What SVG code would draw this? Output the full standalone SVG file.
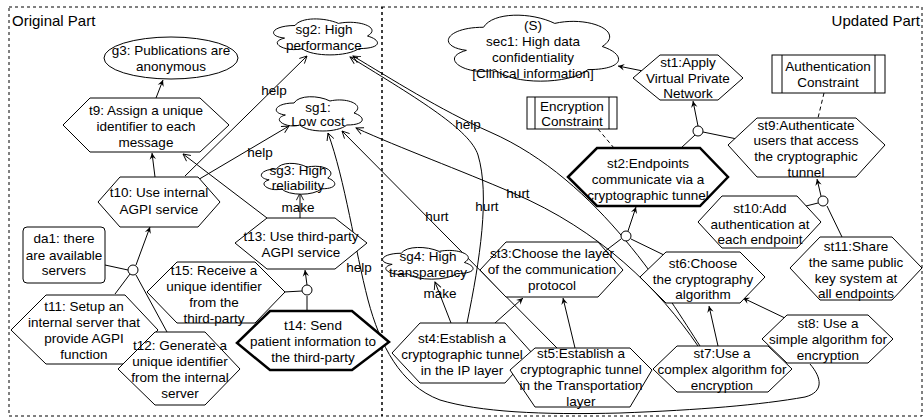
<svg xmlns="http://www.w3.org/2000/svg" width="924" height="420" viewBox="0 0 924 420">
<defs>
<marker id="ar" viewBox="0 0 10 10" refX="9" refY="5" markerWidth="8" markerHeight="8" orient="auto" markerUnits="userSpaceOnUse">
<path d="M1,1 L9,5 L1,9 L4,5 Z" fill="#000"/>
</marker>
<marker id="oa" viewBox="0 0 10 10" refX="9" refY="5" markerWidth="9" markerHeight="9" orient="auto" markerUnits="userSpaceOnUse">
<path d="M1,1 L9,5 L1,9" fill="none" stroke="#000" stroke-width="1"/>
</marker>
<path id="cloud" vector-effect="non-scaling-stroke" d="M0.25,0.25 C0.05,0.25 0,0.5 0.16,0.55 C0,0.66 0.18,0.9 0.31,0.8 C0.4,1 0.7,1 0.8,0.8 C1,0.8 1,0.6 0.875,0.5 C1,0.3 0.8,0.1 0.625,0.2 C0.5,0.05 0.3,0.05 0.25,0.25 Z"/>
</defs>
<style>
text{font-family:"Liberation Sans",Arial,sans-serif;font-size:13.5px;fill:#000;text-anchor:middle}
.frame{fill:none;stroke:#000;stroke-width:1;stroke-dasharray:3 3}
.sh{fill:#fff;stroke:#000;stroke-width:1}
.cl{fill:#fff;stroke:#000;stroke-width:1}
.thick{fill:#fff;stroke:#000;stroke-width:2.5}
.ln{fill:none;stroke:#000;stroke-width:1}
.ar{marker-end:url(#ar)}
.oa{marker-end:url(#oa)}
.dash{stroke-dasharray:4 3}
.title{font-size:15px;text-anchor:start}
</style>
<g id="frames">
<rect class="frame" x="9" y="7" width="373" height="409"/>
<rect class="frame" x="382" y="7" width="540" height="409"/>
<text class="title" x="12" y="26">Original Part</text>
<text class="title" x="920" y="26" style="text-anchor:end">Updated Part</text>
</g>
<g id="connectors">
<line class="ln ar" x1="156" y1="98" x2="163" y2="80"/>
<line class="ln ar" x1="155" y1="177" x2="152" y2="153"/>
<line class="ln oa" x1="185" y1="176" x2="307" y2="56"/>
<line class="ln oa" x1="196" y1="181" x2="289" y2="126"/>
<line class="ln oa" x1="267" y1="218" x2="183" y2="154"/>
<line class="ln oa" x1="300" y1="218" x2="300" y2="193"/>
<line class="ln" x1="105" y1="265" x2="128" y2="270"/>
<line class="ln ar" x1="136" y1="265" x2="150" y2="227"/>
<line class="ln" x1="115" y1="294" x2="130" y2="274"/>
<line class="ln" x1="167" y1="332" x2="136" y2="275"/>
<line class="ln" x1="284" y1="292" x2="302" y2="291"/>
<line class="ln" x1="307" y1="311" x2="307" y2="296"/>
<line class="ln ar" x1="307" y1="285" x2="305" y2="270"/>
<line class="ln ar" x1="643" y1="71" x2="618" y2="66"/>
<line class="ln ar" x1="698" y1="126" x2="693" y2="101"/>
<line class="ln" x1="703" y1="132" x2="737" y2="139"/>
<line class="ln" x1="681" y1="148" x2="695" y2="135"/>
<line class="ln dash" x1="598" y1="129" x2="614" y2="148"/>
<line class="ln dash" x1="824" y1="93" x2="818" y2="118"/>
<line class="ln ar" x1="628" y1="231" x2="636" y2="207"/>
<line class="ln" x1="600" y1="255" x2="621" y2="239"/>
<line class="ln" x1="666" y1="256" x2="631" y2="239"/>
<line class="ln ar" x1="495" y1="323" x2="523" y2="298"/>
<line class="ln ar" x1="575" y1="348" x2="563" y2="298"/>
<line class="ln oa" x1="451" y1="323" x2="435" y2="282"/>
<line class="ln ar" x1="718" y1="346" x2="709" y2="306"/>
<line class="ln ar" x1="787" y1="319" x2="743" y2="298"/>
<line class="ln" x1="806" y1="206" x2="818" y2="203"/>
<line class="ln" x1="842" y1="237" x2="827" y2="206"/>
<line class="ln ar" x1="821" y1="196" x2="817" y2="179"/>
<path class="ln oa" d="M810,364 C822,378 824,392 805,397 C760,405 700,410 620,413 C540,415 480,412 440,400 C400,385 380,345 368,300 C355,250 345,180 328,133"/>
<line class="ln oa" x1="557" y1="348" x2="342" y2="131"/>
<path class="ln oa" d="M698,346 C660,290 600,230 513,193 C460,170 400,148 356,128"/>
<path class="ln oa" d="M467,323 C480,260 490,195 478,155 C470,130 420,100 350,57"/>
<path class="ln oa" d="M700,346 C670,300 600,180 490,132 C440,110 390,78 353,56"/>
</g>
<g id="labels">
<text x="274" y="95">help</text>
<text x="260" y="157">help</text>
<text x="298" y="212">make</text>
<text x="440" y="298">make</text>
<text x="468" y="129">help</text>
<text x="437" y="221">hurt</text>
<text x="487" y="211">hurt</text>
<text x="518" y="198">hurt</text>
<text x="359" y="272">help</text>
</g>
<g id="g3"><ellipse class="sh" cx="171" cy="58" rx="67" ry="21"/><text x="171" y="55">g3: Publications are</text><text x="171" y="71">anonymous</text></g>
<g id="t9"><polygon class="sh" points="63,125 90,98 200,98 229,125 200,152 90,152"/><text x="146" y="115">t9: Assign a unique</text><text x="146" y="131">identifier to each</text><text x="146" y="147">message</text></g>
<g id="sg2"><use href="#cloud" class="cl" transform="translate(266,15) scale(116,42)"/><text x="324" y="34">sg2: High</text><text x="324" y="50">performance</text></g>
<g id="sg1"><use href="#cloud" class="cl" transform="translate(270,93) scale(96,40)"/><text x="318" y="112">sg1:</text><text x="318" y="126">Low cost</text></g>
<g id="sg3"><use href="#cloud" class="cl" transform="translate(256,160) scale(82,36)"/><text x="298" y="175">sg3: High</text><text x="298" y="190">reliability</text></g>
<g id="t10"><polygon class="sh" points="98,202 120,177 198,177 220,202 198,227 120,227"/><text x="159" y="197">t10: Use internal</text><text x="159" y="214">AGPI service</text></g>
<g id="da1"><rect class="sh" x="23" y="227" width="82" height="56" rx="4"/><text x="64" y="243">da1: there</text><text x="64" y="260">are available</text><text x="64" y="275">servers</text></g>
<g id="d1"><circle class="sh" cx="133" cy="270" r="5"/></g>
<g id="t13"><polygon class="sh" points="235,243 267,218 335,218 367,243 335,269 267,269"/><text x="301" y="241">t13: Use third-party</text><text x="301" y="257">AGPI service</text></g>
<g id="d2"><circle class="sh" cx="307" cy="290" r="5"/></g>
<g id="t15"><polygon class="sh" points="147,292 177,262 255,262 285,292 255,323 177,323"/><text x="214" y="275">t15: Receive a</text><text x="214" y="291">unique identifier</text><text x="214" y="307">from the</text><text x="214" y="323">third-party</text></g>
<g id="t11"><polygon class="sh" points="11,330 46,295 125,295 158,330 125,364 46,364"/><text x="84" y="311">t11: Setup an</text><text x="84" y="327">internal server that</text><text x="84" y="343">provide AGPI</text><text x="84" y="359">function</text></g>
<g id="t12"><polygon class="sh" points="118,369 155,332 205,332 240,369 205,405 155,405"/><text x="180" y="350">t12: Generate a</text><text x="180" y="366">unique identifier</text><text x="180" y="382">from the internal</text><text x="180" y="398">server</text></g>
<g id="t14"><polygon class="thick" points="237,343 270,311 352,311 389,342 352,370 270,370"/><text x="313" y="330">t14: Send</text><text x="313" y="346">patient information to</text><text x="313" y="362">the third-party</text></g>
<g id="sec1"><use href="#cloud" class="cl" transform="translate(436,8) scale(190,77)"/><text x="533" y="30">(S)</text><text x="533" y="46">sec1: High data</text><text x="533" y="62">confidentiality</text><text x="533" y="78">[Clinical information]</text></g>
<g id="st1"><polygon class="sh" points="633,78 660,55 718,55 743,78 718,100 660,100"/><text x="688" y="67">st1:Apply</text><text x="688" y="83">Virtual Private</text><text x="688" y="98">Network</text></g>
<g id="ac"><rect class="sh" x="772" y="55" width="113" height="38"/><line class="ln" x1="782" y1="55" x2="782" y2="93"/><line class="ln" x1="875" y1="55" x2="875" y2="93"/><text x="828" y="71">Authentication</text><text x="828" y="87">Constraint</text></g>
<g id="ec"><rect class="sh" x="527" y="97" width="90" height="32"/><line class="ln" x1="535" y1="97" x2="535" y2="129"/><line class="ln" x1="609" y1="97" x2="609" y2="129"/><text x="572" y="111">Encryption</text><text x="572" y="126">Constraint</text></g>
<g id="d3"><circle class="sh" cx="698" cy="131" r="5"/></g>
<g id="st9"><polygon class="sh" points="728,145 757,118 856,118 885,145 856,177 757,177"/><text x="806" y="130">st9:Authenticate</text><text x="806" y="145">users that access</text><text x="806" y="161">the cryptographic</text><text x="806" y="177">tunnel</text></g>
<g id="st2"><polygon class="thick" points="568,177 597,148 700,148 728,177 700,206 597,206"/><text x="648" y="168">st2:Endpoints</text><text x="648" y="184">communicate via a</text><text x="648" y="200">cryptographic tunnel</text></g>
<g id="d4"><circle class="sh" cx="626" cy="236" r="5"/></g>
<g id="d5"><circle class="sh" cx="823" cy="201" r="5"/></g>
<g id="st10"><polygon class="sh" points="698,222 722,196 797,196 821,222 797,248 722,248"/><text x="760" y="213">st10:Add</text><text x="760" y="229">authentication at</text><text x="760" y="244">each endpoint</text></g>
<g id="st11"><polygon class="sh" points="790,268 820,237 892,237 922,268 892,300 820,300"/><text x="856" y="251">st11:Share</text><text x="856" y="267">the same public</text><text x="856" y="283">key system at</text><text x="856" y="298">all endpoints</text></g>
<g id="st6"><polygon class="sh" points="640,277 666,252 740,252 765,277 740,303 666,303"/><text x="703" y="268">st6:Choose</text><text x="703" y="284">the cryptography</text><text x="703" y="299">algorithm</text></g>
<g id="sg4"><use href="#cloud" class="cl" transform="translate(376,244) scale(101,37)"/><text x="428" y="261">sg4: High</text><text x="428" y="277">transparency</text></g>
<g id="st3"><polygon class="sh" points="480,270 506,242 598,242 623,270 598,297 506,297"/><text x="552" y="258">st3:Choose the layer</text><text x="552" y="274">of the communication</text><text x="552" y="290">protocol</text></g>
<g id="st4"><polygon class="sh" points="392,353 420,323 505,323 532,353 505,383 420,383"/><text x="462" y="343">st4:Establish a</text><text x="462" y="359">cryptographic tunnel</text><text x="462" y="375">in the IP layer</text></g>
<g id="st5"><polygon class="sh" points="510,370 535,348 630,348 652,370 630,407 535,407"/><text x="581" y="358">st5:Establish a</text><text x="581" y="374">cryptographic tunnel</text><text x="581" y="390">in the Transportation</text><text x="581" y="406">layer</text></g>
<g id="st7"><polygon class="sh" points="653,369 677,346 768,346 792,369 768,392 677,392"/><text x="722" y="358">st7:Use a</text><text x="722" y="374">complex algorithm for</text><text x="722" y="390">encryption</text></g>
<g id="st8"><polygon class="sh" points="762,339 787,315 868,315 893,339 868,363 787,363"/><text x="828" y="328">st8: Use a</text><text x="828" y="344">simple algorithm for</text><text x="828" y="360">encryption</text></g>
</svg>
